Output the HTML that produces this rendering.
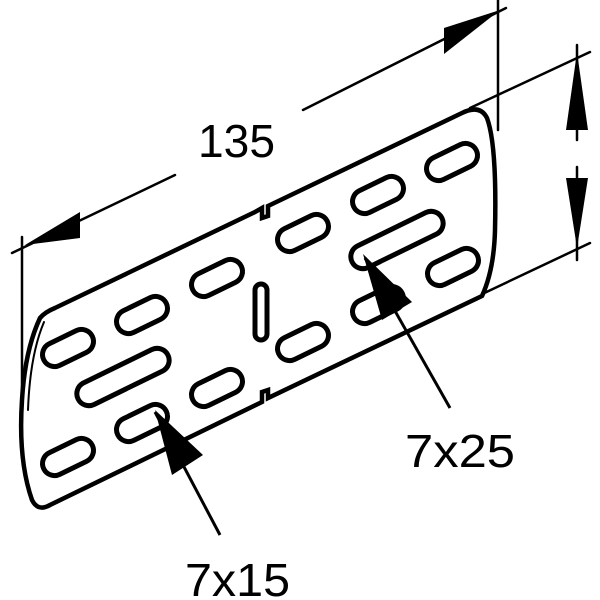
<!DOCTYPE html>
<html><head><style>body{margin:0;background:#fff}svg{display:block}</style></head>
<body>
<svg width="600" height="600" viewBox="0 0 600 600" xmlns="http://www.w3.org/2000/svg">
<g stroke="#000" fill="none" stroke-linecap="round">
<line x1="22" y1="237" x2="22" y2="440" stroke-width="2.5"/>
<line x1="498" y1="0" x2="498" y2="130" stroke-width="2.5"/>
<line x1="470" y1="108" x2="590" y2="52" stroke-width="2.5"/>
<line x1="478" y1="296" x2="590" y2="243" stroke-width="2.5"/>
<line x1="12" y1="253" x2="175" y2="175" stroke-width="2.5"/>
<line x1="303" y1="110" x2="506" y2="8" stroke-width="2.5"/>
<line x1="577" y1="45" x2="577" y2="140" stroke-width="2.5"/>
<line x1="577" y1="167" x2="577" y2="260" stroke-width="2.5"/>
<path d="M40,318 Q45,312 55,308 L255,212 L262,208 L262,218 L268,216 L268,206 L462,113 Q480,104 487,118 Q497,145 495,230 Q494,270 482,296 L268,398 L268,390 L262,392 L262,402 L50,505 Q38,512 32,500 Q18,460 22,400 Q25,350 40,318 Z" stroke-width="4.5" fill="#fff"/>
<path d="M44,322 Q30,355 28,410" stroke-width="2"/>
</g>
<g stroke="#000" stroke-width="5" fill="#fff">
<rect x="-27" y="-12" width="54" height="24" rx="12" transform="translate(68,348) rotate(-26)"/>
<rect x="-27" y="-12" width="54" height="24" rx="12" transform="translate(142,315) rotate(-26)"/>
<rect x="-27" y="-12" width="54" height="24" rx="12" transform="translate(217,278) rotate(-26)"/>
<rect x="-27" y="-12" width="54" height="24" rx="12" transform="translate(303,233) rotate(-26)"/>
<rect x="-27" y="-12" width="54" height="24" rx="12" transform="translate(378,195) rotate(-26)"/>
<rect x="-27" y="-12" width="54" height="24" rx="12" transform="translate(452,162) rotate(-26)"/>
<rect x="-50" y="-12" width="100" height="24" rx="12" transform="translate(123,377) rotate(-26)"/>
<rect x="-50" y="-12" width="100" height="24" rx="12" transform="translate(397,240) rotate(-26)"/>
<rect x="-27" y="-12" width="54" height="24" rx="12" transform="translate(68,457) rotate(-26)"/>
<rect x="-27" y="-12" width="54" height="24" rx="12" transform="translate(142,423) rotate(-26)"/>
<rect x="-27" y="-12" width="54" height="24" rx="12" transform="translate(217,388) rotate(-26)"/>
<rect x="-27" y="-12" width="54" height="24" rx="12" transform="translate(303,342) rotate(-26)"/>
<rect x="-27" y="-12" width="54" height="24" rx="12" transform="translate(378,305) rotate(-26)"/>
<rect x="-27" y="-12" width="54" height="24" rx="12" transform="translate(453,267) rotate(-26)"/>
<rect x="-6" y="-28" width="12" height="56" rx="6" transform="translate(261,312)"/>
</g>
<g stroke="#000" stroke-width="3">
<line x1="155" y1="412" x2="220" y2="535"/>
<line x1="365" y1="258" x2="450" y2="408"/>
</g>
<g fill="#000">
<polygon points="25,245 80,212 80,238"/>
<polygon points="500,10 444,28 444,54"/>
<polygon points="577,52 566,130 588,130"/>
<polygon points="577,248 566,178 588,178"/>
<polygon points="155,410 172,475 203,455"/>
<polygon points="363,254 382,320 412,302"/>
</g>
<g font-family="Liberation Sans, sans-serif" font-size="46" fill="#000">
<text x="198" y="157" textLength="77" lengthAdjust="spacingAndGlyphs">135</text>
<text x="405" y="467" textLength="110" lengthAdjust="spacingAndGlyphs">7x25</text>
<text x="185" y="596" textLength="105" lengthAdjust="spacingAndGlyphs">7x15</text>
</g>
</svg>
</body></html>
